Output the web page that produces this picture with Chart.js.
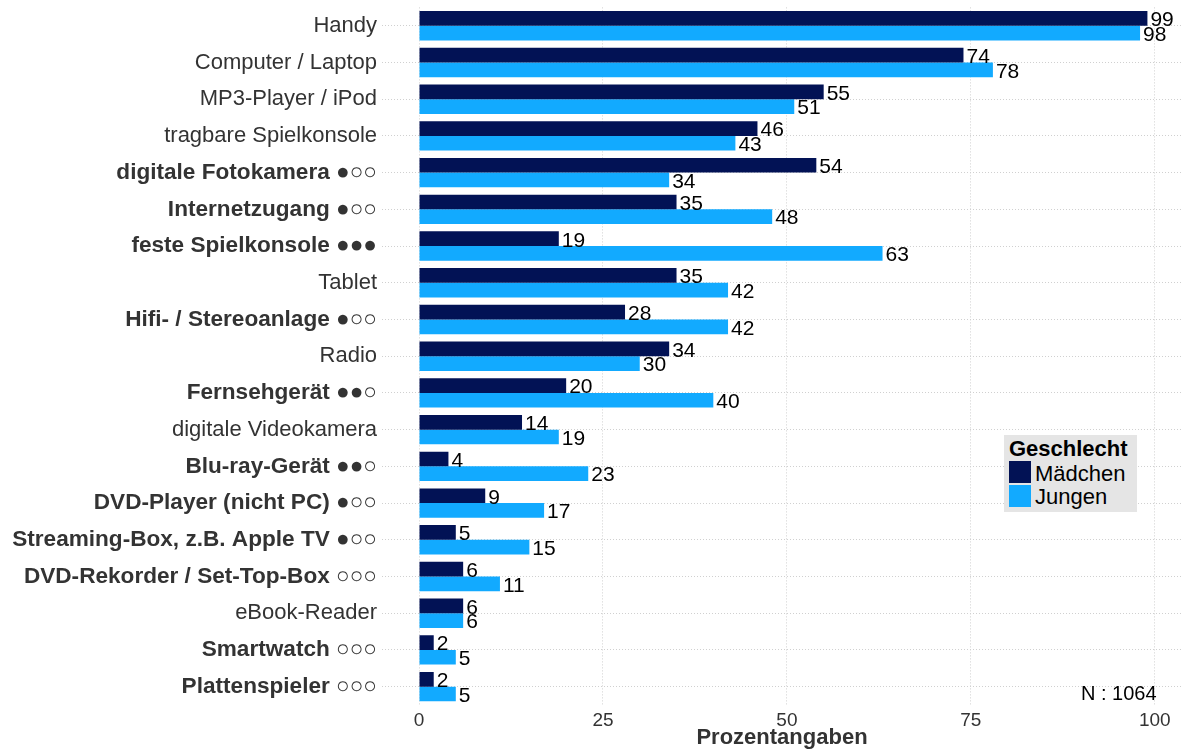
<!DOCTYPE html>
<html>
<head>
<meta charset="utf-8">
<script src="https://cdn.jsdelivr.net/npm/chart.js@4"></script>
<style>
  html, body { margin: 0; padding: 0; background: #fff; }
  #wrap { position: relative; width: 1182px; height: 749px; }
  #legend {
    position: absolute; left: 1004px; top: 435px; width: 133px; height: 77px;
    background: #e5e5e5; font-family: "Liberation Sans", Arial, sans-serif; color: #000;
  }
  #legend div { position: absolute; font-size: 22px; line-height: 22px; white-space: nowrap; }
  #legend .sw { width: 22px; height: 22px; left: 5px; }
  #nlabel {
    position: absolute; left: 1081px; top: 683px; font-size: 20px; line-height: 20px;
    font-family: "Liberation Sans", Arial, sans-serif; color: #000;
  }
</style>
</head>
<body>
<div id="wrap">
  <canvas id="chart" width="1182" height="749"></canvas>
  <div id="legend">
    <div style="left:5px; top:3px; font-weight:bold">Geschlecht</div>
    <div class="sw" style="top:26px; background:#021255"></div>
    <div style="left:31px; top:28px">Mädchen</div>
    <div class="sw" style="top:50px; background:#12aaff"></div>
    <div style="left:31px; top:51px">Jungen</div>
  </div>
  <div id="nlabel">N : 1064</div>
</div>
<script>
// Geräte-Besitz nach Geschlecht
const categories = [
  'Handy', 'Computer / Laptop', 'MP3-Player / iPod', 'tragbare Spielkonsole',
  'digitale Fotokamera ●○○', 'Internetzugang ●○○', 'feste Spielkonsole ●●●', 'Tablet',
  'Hifi- / Stereoanlage ●○○', 'Radio', 'Fernsehgerät ●●○', 'digitale Videokamera',
  'Blu-ray-Gerät ●●○', 'DVD-Player (nicht PC) ●○○', 'Streaming-Box, z.B. Apple TV ●○○',
  'DVD-Rekorder / Set-Top-Box ○○○', 'eBook-Reader', 'Smartwatch ○○○', 'Plattenspieler ○○○'
];
const maedchen = [99, 74, 55, 46, 54, 35, 19, 35, 28, 34, 20, 14, 4, 9, 5, 6, 6, 2, 2];
const jungen   = [98, 78, 51, 43, 34, 48, 63, 42, 42, 30, 40, 19, 23, 17, 15, 11, 6, 5, 5];
const xTicks = [0, 25, 50, 75, 100];

const FONT = '"Liberation Sans", Arial, sans-serif';
const GRID = '#d0d0d0';

// Zahlen rechts neben den Balken
const valueLabels = {
  id: 'valueLabels',
  afterDatasetsDraw(chart) {
    const c = chart.ctx;
    c.save();
    c.font = '21px ' + FONT;
    c.fillStyle = '#000';
    c.textAlign = 'left';
    c.textBaseline = 'middle';
    chart.data.datasets.forEach((ds, i) => {
      chart.getDatasetMeta(i).data.forEach((bar, j) => {
        c.fillText(ds.data[j], bar.x + 3, bar.y + 2);
      });
    });
    c.restore();
  }
};

const ctx = document.getElementById('chart').getContext('2d');
new Chart(ctx, {
  type: 'bar',
  data: {
    labels: categories,
    datasets: [
      { label: 'Mädchen', data: maedchen, backgroundColor: '#021255' },
      { label: 'Jungen', data: jungen, backgroundColor: '#12aaff' }
    ]
  },
  options: {
    indexAxis: 'y',
    responsive: false,
    animation: false,
    categoryPercentage: 0.8,
    barPercentage: 1,
    layout: { padding: { top: 7.4, right: 0, left: 0, bottom: 0 } },
    plugins: { legend: { display: false }, tooltip: { enabled: false } },
    scales: {
      x: {
        min: -5.03, max: 103.7,
        afterBuildTicks: s => { s.ticks = xTicks.map(v => ({ value: v })); },
        afterFit: s => { s.height = 44; s.paddingLeft = 0; s.paddingRight = 0; },
        grid: { color: GRID, lineWidth: 1, drawTicks: false },
        border: { display: false, dash: [1, 2] },
        ticks: { color: '#333', font: { family: FONT, size: 19 }, padding: 4, maxRotation: 0 },
        title: { display: true, text: 'Prozentangaben', color: '#333',
                 font: { family: FONT, size: 22, weight: 'bold', lineHeight: 1 },
                 padding: { top: 0, bottom: 0 } }
      },
      y: {
        afterFit: s => { s.width = 382; s.paddingTop = 0; s.paddingBottom = 0; },
        grid: { offset: false, color: GRID, lineWidth: 1, drawTicks: false },
        border: { display: false, dash: [1, 2] },
        ticks: {
          color: '#333', padding: 5, autoSkip: false,
          font: c => /[●○]/.test(categories[c.index])
            ? { family: FONT, size: 22.6, weight: 'bold' }
            : { family: FONT, size: 22, weight: 'normal' }
        }
      }
    }
  },
  plugins: [valueLabels]
});
</script>
</body>
</html>
